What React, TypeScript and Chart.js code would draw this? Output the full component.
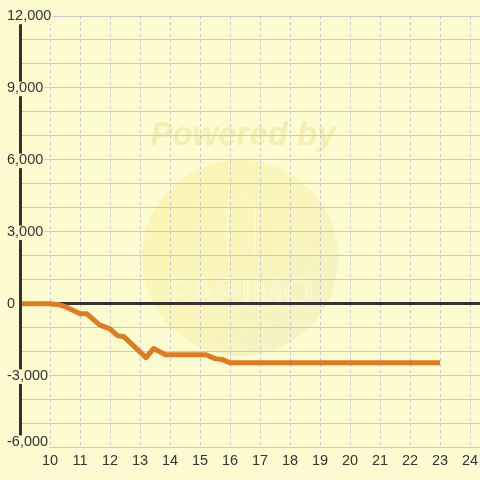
import { useEffect, useRef } from 'react';
import { Chart, registerables } from 'chart.js';

Chart.register(...registerables);

// Data (time of day vs. difference)
const timeValues = [9, 10, 10.3, 10.5, 11, 11.23, 11.65, 12, 12.25, 12.47, 13.2, 13.45, 13.85, 15.2, 15.5, 15.75, 16, 23];
const diffValues = [0, 0, -40, -120, -420, -420, -880, -1050, -1330, -1380, -2250, -1870, -2130, -2130, -2290, -2330, -2460, -2460];

const xTickValues = [9, 10, 11, 12, 13, 14, 15, 16, 17, 18, 19, 20, 21, 22, 23, 24];
const xMin = 9;
const xMax = 24.33;
const yMin = -6000;
const yMax = 12000;
const yGridStep = 1000;
const yLabelStep = 3000;

const BG = '#fcfcd0';
const FONT = '"Liberation Sans", Arial, sans-serif';

const fmt = (v: number) => v.toLocaleString('en-US');

const backgroundPlugin = {
  id: 'bgWatermark',
  beforeDraw(chart: any) {
    const { ctx, width, height } = chart;
    ctx.save();
    ctx.fillStyle = BG;
    ctx.fillRect(0, 0, width, height);
    // faint watermark
    const cx = 240, cy = 258, r = 98;
    const g = ctx.createLinearGradient(cx - r, cy - r, cx + r, cy + r);
    g.addColorStop(0, 'rgba(252,240,150,0.5)');
    g.addColorStop(0.5, 'rgba(248,236,160,0.45)');
    g.addColorStop(1, 'rgba(236,230,190,0.5)');
    ctx.beginPath();
    ctx.arc(cx, cy, r, 0, Math.PI * 2);
    ctx.fillStyle = g;
    ctx.fill();
    ctx.font = `italic bold 33px ${FONT}`;
    ctx.textAlign = 'center';
    ctx.textBaseline = 'alphabetic';
    ctx.fillStyle = 'rgba(240,228,160,0.6)';
    ctx.fillText('Powered by', 243, 145);
    ctx.strokeStyle = 'rgba(255,255,240,0.55)';
    ctx.lineWidth = 1.2;
    ctx.beginPath();
    ctx.roundRect(227, 200, 28, 56, 4);
    ctx.stroke();
    ctx.font = `38px ${FONT}`;
    ctx.strokeText('PAPIMO', 240, 305);
    ctx.restore();

    // lift the lowest y label a little so it clears the x labels, as in the original
    const yScale = chart.scales.y;
    if (yScale && yScale.getLabelItems) {
      const items = yScale.getLabelItems(chart.chartArea);
      for (const it of items) {
        if (it.label === fmt(yMin) && !it._lifted) {
          it.options.translation[1] -= 6;
          it._lifted = true;
        }
      }
    }
  },
};

export default function App() {
  const ref = useRef<HTMLCanvasElement | null>(null);

  useEffect(() => {
    if (!ref.current) return;
    const points = timeValues.map((x, i) => ({ x, y: diffValues[i] }));
    const chart = new Chart(ref.current, {
      type: 'line',
      data: {
        datasets: [
          {
            data: points,
            borderColor: '#e07b22',
            borderWidth: 5,
            pointRadius: 0,
            tension: 0,
            fill: false,
            borderJoinStyle: 'round',
            borderCapStyle: 'butt',
          },
        ],
      },
      options: {
        responsive: false,
        animation: false,
        layout: { padding: { left: 7, top: 16, right: 0, bottom: 5 } },
        plugins: { legend: { display: false }, tooltip: { enabled: false } },
        scales: {
          x: {
            type: 'linear',
            min: xMin,
            max: xMax,
            afterBuildTicks: (scale: any) => {
              scale.ticks = xTickValues.map((v) => ({ value: v }));
            },
            afterFit: (scale: any) => {
              scale.paddingRight = 0;
              scale.paddingLeft = 0;
            },
            border: { display: false, dash: [3, 3] },
            grid: { color: '#c8c8c8', lineWidth: 1, drawTicks: false },
            ticks: {
              padding: 5,
              color: '#333',
              maxRotation: 0,
              autoSkip: false,
              font: { family: FONT, size: 14.5, lineHeight: 1.2 },
              callback: (v: any) => (v === xMin ? '' : String(v)),
            },
          },
          y: {
            type: 'linear',
            min: yMin,
            max: yMax,
            afterFit: (scale: any) => {
              scale.width = 13;
            },
            border: { display: true, color: '#333', width: 3, z: 1 },
            grid: {
              drawTicks: false,
              color: (c: any) => (c.tick && c.tick.value === 0 ? '#333' : '#c8c8c8'),
              lineWidth: (c: any) => (c.tick && c.tick.value === 0 ? 3 : 1),
            },
            ticks: {
              z: 2,
              stepSize: yGridStep,
              autoSkip: false,
              mirror: true,
              crossAlign: 'near',
              padding: -13,
              color: '#333',
              font: { family: FONT, size: 14.5, lineHeight: 1 },
              showLabelBackdrop: true,
              backdropColor: BG,
              backdropPadding: { top: -1, bottom: 1, left: 0, right: 1 },
              callback: (v: any) => (v % yLabelStep === 0 ? fmt(v) : ''),
            },
          },
        },
      },
      plugins: [backgroundPlugin],
    } as any);
    return () => chart.destroy();
  }, []);

  return (
    <div style={{ position: 'fixed', left: 0, top: 0, width: 480, height: 480 }}>
      <canvas ref={ref} width={480} height={480} style={{ display: 'block' }} />
    </div>
  );
}
